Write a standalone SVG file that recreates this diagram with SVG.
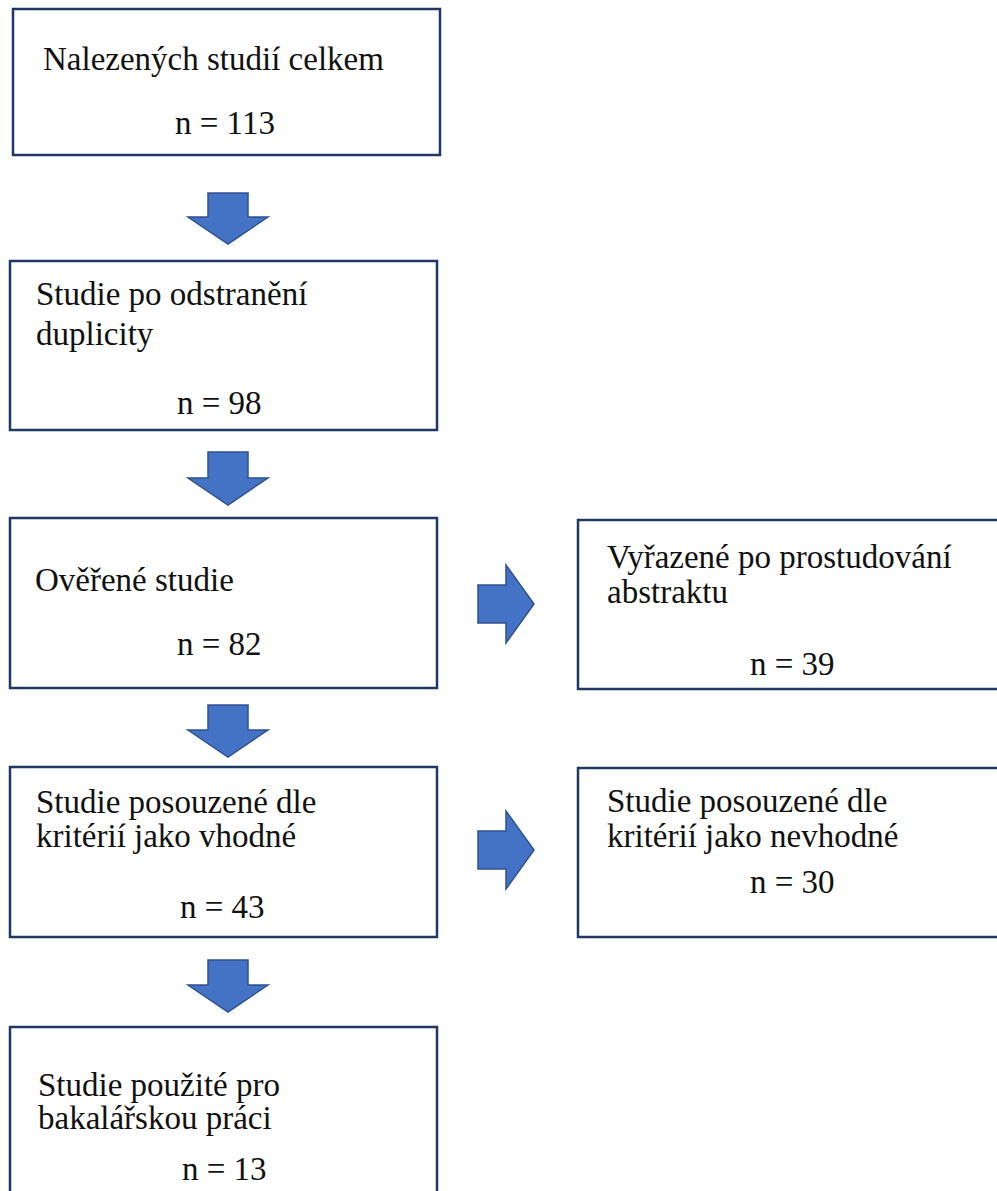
<svg xmlns="http://www.w3.org/2000/svg" width="997" height="1191" viewBox="0 0 997 1191">
<style>
.box{fill:#ffffff;stroke:#1f3864;stroke-width:2.5}
.arr{fill:#4472c4;stroke:#2f528f;stroke-width:1.5;stroke-linejoin:miter}
text{font-family:"Liberation Serif","Times New Roman",serif;font-size:33px;fill:#111111}
</style>
<rect width="997" height="1191" fill="#ffffff"/>
<g id="connectors">
<path class="arr" d="M208,193 H248 V217 H268 L228,244 L188,217 H208 Z"/>
<path class="arr" d="M208,452 H248 V478 H268 L228,505 L188,478 H208 Z"/>
<path class="arr" d="M208,705 H248 V730 H268 L228,757 L188,730 H208 Z"/>
<path class="arr" d="M208,960 H248 V985 H268 L228,1012 L188,985 H208 Z"/>
<path class="arr" d="M478,585 H506 V565 L534,604 L506,643 V623 H478 Z"/>
<path class="arr" d="M478,831 H506 V811 L534,850 L506,889 V869 H478 Z"/>
</g>
<g id="n1">
<rect class="box" x="13" y="9" width="427" height="146"/>
<text x="43" y="70">Nalezených studií celkem</text>
<text x="175" y="134">n = 113</text>
</g>
<g id="n2">
<rect class="box" x="10" y="261" width="427" height="169"/>
<text x="36" y="305">Studie po odstranění</text>
<text x="36" y="345">duplicity</text>
<text x="177" y="414">n = 98</text>
</g>
<g id="n3">
<rect class="box" x="10" y="518" width="427" height="170"/>
<text x="35" y="591">Ověřené studie</text>
<text x="177" y="655">n = 82</text>
</g>
<g id="n4">
<rect class="box" x="10" y="767" width="427" height="170"/>
<text x="36" y="813">Studie posouzené dle</text>
<text x="36" y="847">kritérií jako vhodné</text>
<text x="180" y="918">n = 43</text>
</g>
<g id="n5">
<rect class="box" x="10" y="1027" width="427" height="180"/>
<text x="38" y="1096">Studie použité pro</text>
<text x="38" y="1129">bakalářskou práci</text>
<text x="182" y="1180">n = 13</text>
</g>
<g id="n6">
<rect class="box" x="578" y="520" width="440" height="169"/>
<text x="607" y="568">Vyřazené po prostudování</text>
<text x="607" y="603">abstraktu</text>
<text x="750" y="675">n = 39</text>
</g>
<g id="n7">
<rect class="box" x="578" y="768" width="440" height="169"/>
<text x="607" y="812">Studie posouzené dle</text>
<text x="607" y="847">kritérií jako nevhodné</text>
<text x="750" y="893">n = 30</text>
</g>
</svg>
